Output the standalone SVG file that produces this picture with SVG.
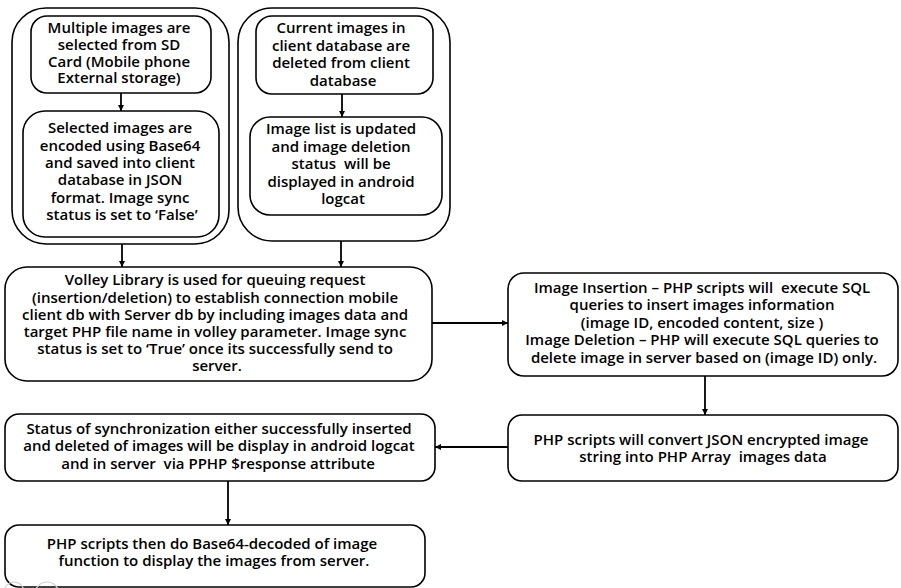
<svg xmlns="http://www.w3.org/2000/svg" width="901" height="588" viewBox="0 0 901 588">
  <style>
    .box { fill: #ffffff; stroke: #000000; stroke-width: 1.6; }
    .edge { fill: none; stroke: #000000; stroke-width: 1.8; }
    .lbl { font-family: "Open Sans", "Noto Sans", sans-serif; font-weight: 600; font-size: 15px; fill: #000000; text-anchor: middle; }
    .mark { fill: none; stroke: #d2d2d2; stroke-width: 1.2; }
  </style>
  <defs>
    <marker id="arrow" viewBox="0 0 10 10" refX="10" refY="5" markerWidth="6" markerHeight="6" markerUnits="userSpaceOnUse" orient="auto">
      <path d="M0,0 L10,5 L0,10 z" fill="#000000"/>
    </marker>
  </defs>
  <rect width="901" height="588" fill="#ffffff"/>

  <!-- client-side containers -->
  <g id="client-insert-group">
    <rect class="box" x="12" y="8" width="217" height="236" rx="34"/>
  </g>
  <g id="client-delete-group">
    <rect class="box" x="238" y="8" width="212" height="233" rx="34"/>
  </g>

  <g id="select-images">
    <rect class="box" x="31" y="16" width="180" height="77" rx="16"/>
    <text class="lbl">
      <tspan x="121" y="33.3">Multiple images are</tspan>
      <tspan x="121" y="50">selected from SD</tspan>
      <tspan x="121" y="66.7">Card (Mobile phone</tspan>
      <tspan x="119" y="83.4">External storage)</tspan>
    </text>
  </g>

  <g id="encode-images">
    <rect class="box" x="23" y="111" width="196" height="126" rx="22"/>
    <text class="lbl">
      <tspan x="122" y="133.3">Selected images are</tspan>
      <tspan x="122" y="150.6">encoded using Base64</tspan>
      <tspan x="122" y="167.9">and saved into client</tspan>
      <tspan x="122" y="185.2">database in JSON</tspan>
      <tspan x="122" y="202.5">format. Image sync</tspan>
      <tspan x="122" y="219.8">status is set to ‘False’</tspan>
    </text>
  </g>

  <g id="delete-images">
    <rect class="box" x="256" y="16" width="177" height="78" rx="16"/>
    <text class="lbl">
      <tspan x="343" y="33.3">Current images in</tspan>
      <tspan x="343" y="50.8">client database are</tspan>
      <tspan x="343" y="68.3">deleted from client</tspan>
      <tspan x="343" y="85.8">database</tspan>
    </text>
  </g>

  <g id="update-list">
    <rect class="box" x="250" y="117" width="192" height="98" rx="20"/>
    <text class="lbl">
      <tspan x="343" y="134">Image list is updated</tspan>
      <tspan x="343" y="151.6">and image deletion</tspan>
      <tspan x="343" y="169.2">status&#160; will be</tspan>
      <tspan x="343" y="186.8">displayed in android</tspan>
      <tspan x="343" y="204.4">logcat</tspan>
    </text>
  </g>

  <g id="volley-request">
    <rect class="box" x="5" y="267" width="427" height="114" rx="22"/>
    <text class="lbl">
      <tspan x="217" y="285.3">Volley Library is used for queuing request</tspan>
      <tspan x="217" y="302.5">(insertion/deletion) to establish connection mobile</tspan>
      <tspan x="217" y="319.7">client db with Server db by including images data and</tspan>
      <tspan x="217" y="336.9">target PHP file name in volley parameter. Image sync</tspan>
      <tspan x="217" y="354.1">status is set to ‘True’ once its successfully send to</tspan>
      <tspan x="217" y="371.3">server.</tspan>
    </text>
  </g>

  <g id="server-sql">
    <rect class="box" x="508" y="273" width="390" height="103" rx="16"/>
    <text class="lbl">
      <tspan x="704" y="292.5">Image Insertion – PHP scripts will&#160; execute SQL</tspan>
      <tspan x="704" y="310">queries to insert images information</tspan>
      <tspan x="704" y="327.5">(image ID, encoded content, size )</tspan>
      <tspan x="704" y="345">Image Deletion – PHP will execute SQL queries to</tspan>
      <tspan x="704" y="362.5">delete image in server based on (image ID) only.</tspan>
    </text>
  </g>

  <g id="json-convert">
    <rect class="box" x="508" y="415" width="390" height="66" rx="14"/>
    <text class="lbl">
      <tspan x="703" y="444.5">PHP scripts will convert JSON encrypted image</tspan>
      <tspan x="703" y="462">string into PHP Array&#160; images data</tspan>
    </text>
  </g>

  <g id="sync-status">
    <rect class="box" x="5" y="414" width="430" height="67" rx="14"/>
    <text class="lbl">
      <tspan x="221" y="434">Status of synchronization either successfully inserted</tspan>
      <tspan x="221" y="451.4">and deleted of images will be display in android logcat</tspan>
      <tspan x="218" y="468.8">and in server&#160; via PPHP $response attribute</tspan>
    </text>
  </g>

  <g id="decode-display">
    <rect class="box" x="5" y="525" width="420" height="62" rx="14"/>
    <text class="lbl">
      <tspan x="214" y="549">PHP scripts then do Base64-decoded of image</tspan>
      <tspan x="214" y="566.4">function to display the images from server.</tspan>
    </text>
  </g>

  <!-- faint licence marks in the corner -->
  <g id="corner-marks">
    <circle class="mark" cx="14" cy="592" r="10"/>
    <circle class="mark" cx="47" cy="594" r="12"/>
  </g>

  <g id="connectors">
    <line class="edge" x1="121" y1="93" x2="121" y2="111" marker-end="url(#arrow)"/>
    <line class="edge" x1="342" y1="94" x2="342" y2="117" marker-end="url(#arrow)"/>
    <line class="edge" x1="122" y1="244" x2="122" y2="267" marker-end="url(#arrow)"/>
    <line class="edge" x1="341" y1="241" x2="341" y2="267" marker-end="url(#arrow)"/>
    <line class="edge" x1="432" y1="323" x2="508" y2="323" marker-end="url(#arrow)"/>
    <line class="edge" x1="705" y1="376" x2="705" y2="415" marker-end="url(#arrow)"/>
    <line class="edge" x1="508" y1="447" x2="435" y2="447" marker-end="url(#arrow)"/>
    <line class="edge" x1="228" y1="481" x2="228" y2="525" marker-end="url(#arrow)"/>
  </g>
</svg>
